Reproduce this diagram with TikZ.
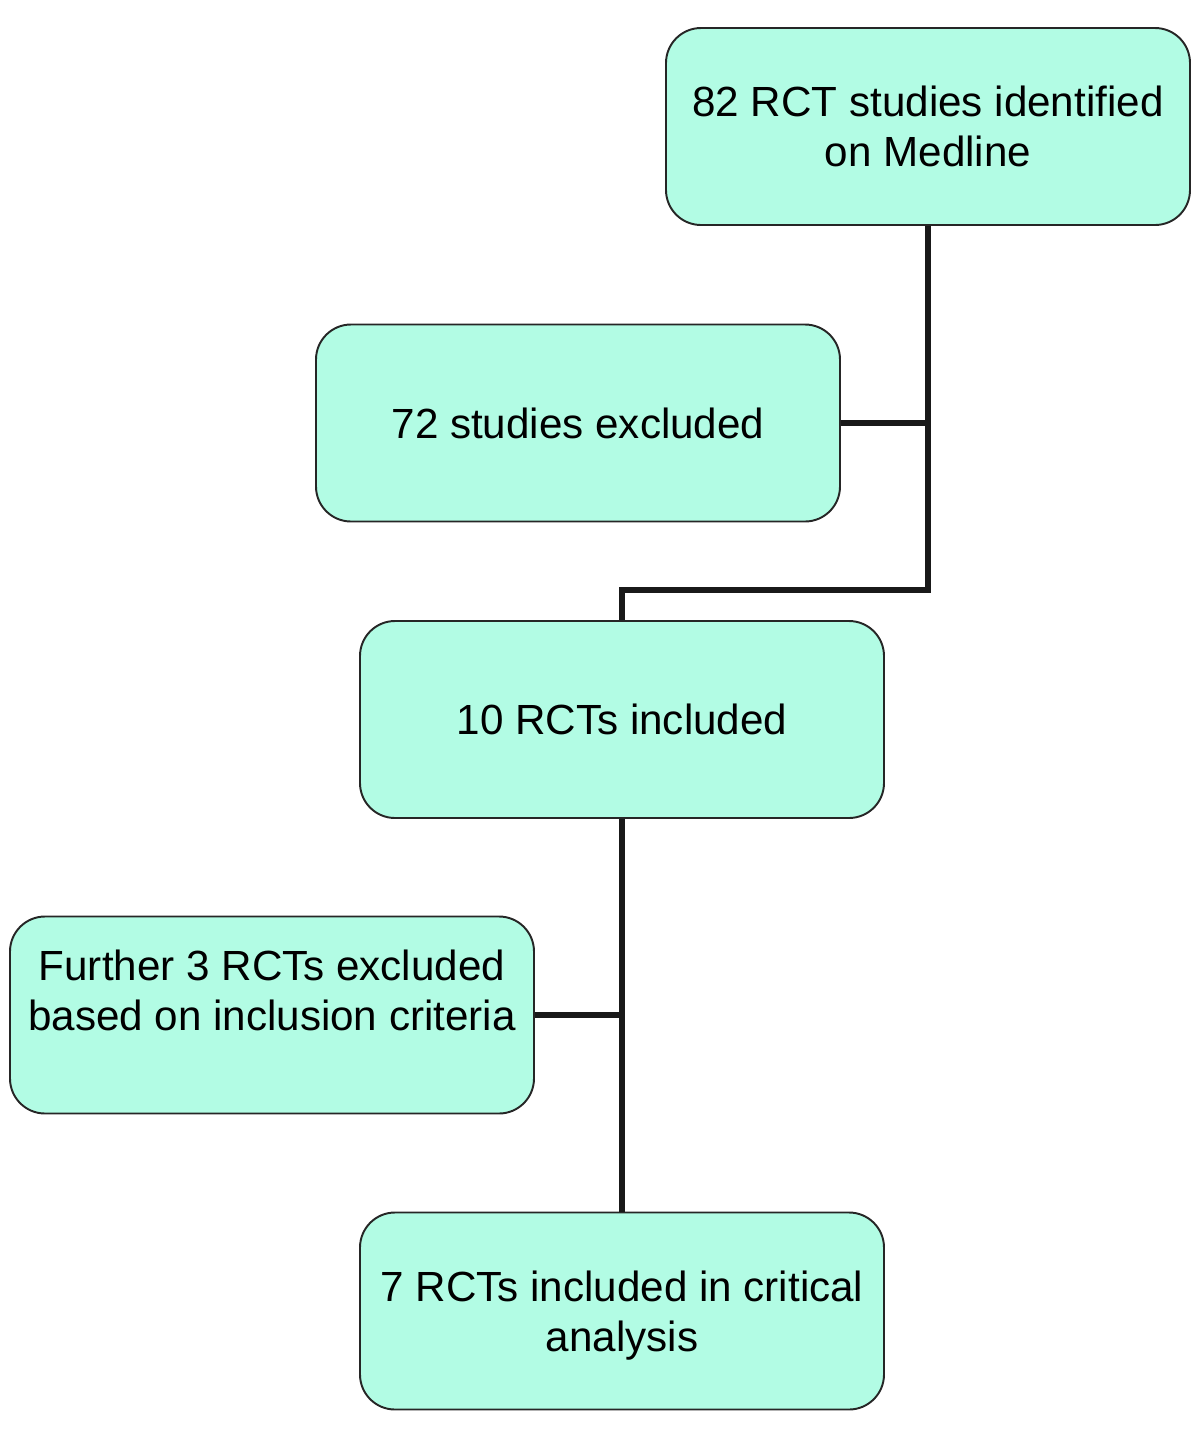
\documentclass[tikz,border=0pt]{standalone}
\usepackage{fontspec}
\setmainfont{Liberation Sans}
\usetikzlibrary{positioning}

\definecolor{mint}{RGB}{178,252,228}

\begin{document}
\begin{tikzpicture}[
  box/.style={draw=black!85,line width=1.1pt,fill=mint,rounded corners=0.7cm,align=center,
    minimum width=10.48cm,minimum height=3.94cm,inner sep=0pt,
    font=\fontsize{24}{28.5}\selectfont},
  link/.style={line width=3pt,black!90}
]
\useasboundingbox (0,0) rectangle (24,-28.62);
\node[box] (found) at (18.56,-2.53) {82 RCT studies identified\\on Medline};
\node[box] (excl) at (11.56,-8.46) {72 studies excluded};
\node[box] (incl) at (12.44,-14.39) {10 RCTs included};
\node[box,text depth=1cm] (further) at (5.44,-20.3) {Further 3 RCTs excluded\\based on inclusion criteria};
\node[box,text depth=0pt] (final) at (12.44,-26.22) {7 RCTs included in critical\\analysis};
\coordinate (turn) at (18.56,-11.8);
\draw[link] (found.south) -- (turn) -| (incl.north);
\draw[link] (excl.east) -- (excl.east -| found.south);
\draw[link] (incl.south) -- (final.north);
\draw[link] (further.east) -- (further.east -| incl.south);
\end{tikzpicture}
\end{document}
